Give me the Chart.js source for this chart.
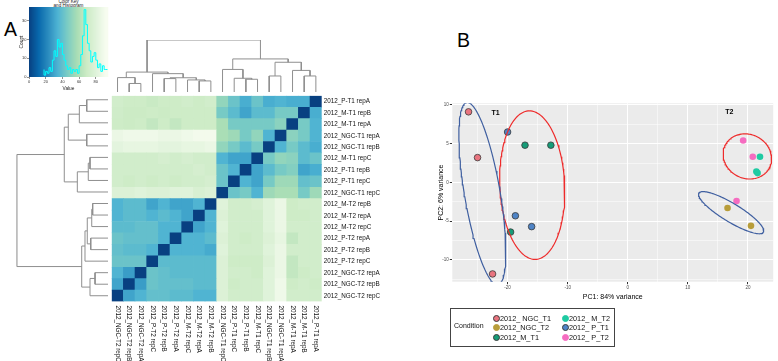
<!DOCTYPE html>
<html>
<head>
<meta charset="utf-8">
<title>Heatmap and PCA</title>
<script src="https://cdn.jsdelivr.net/npm/chart.js@4.4.1/dist/chart.umd.min.js"></script>
<style>
  body { margin: 0; width: 778px; height: 361px; overflow: hidden; position: relative; background: #fff;
         font-family: "Liberation Sans", Arial, Helvetica, sans-serif; }
  canvas { position: absolute; }
  .letter { position: absolute; font-size: 19.5px; line-height: 1; color: #000; }
  #keyTitle { position: absolute; left: 38px; width: 61px; top: -0.5px; font-size: 4.6px; line-height: 4.8px;
              text-align: center; color: #222; }
  #legendBox { position: absolute; left: 450px; top: 307.5px; width: 163px; height: 37px; border: 1px solid #444; }
  #legendBox div { position: absolute; white-space: nowrap; }
</style>
</head>
<body>
<div class="letter" style="left:4px;top:20px">A</div>
<div class="letter" style="left:457px;top:31px">B</div>
<div id="keyTitle">Color Key<br>and Histogram</div>

<canvas id="keyChart" width="115" height="95" style="left:0;top:0"></canvas>
<canvas id="colDendro" width="330" height="56" style="left:100px;top:38px"></canvas>
<canvas id="rowDendro" width="112" height="215" style="left:0;top:90px"></canvas>
<canvas id="heatChart" width="330" height="271" style="left:100px;top:90px"></canvas>
<canvas id="pcaChart" width="348" height="215" style="left:430px;top:95px"></canvas>
<div id="legendBox"></div>

<script>
Chart.defaults.font.family = '"Liberation Sans", Arial, Helvetica, sans-serif';

// ---- heatmap data (rows top to bottom, columns left to right) ----
const rowNames = ['2012_P-T1 repA', '2012_M-T1 repB', '2012_M-T1 repA', '2012_NGC-T1 repA', '2012_NGC-T1 repB',
  '2012_M-T1 repC', '2012_P-T1 repB', '2012_P-T1 repC', '2012_NGC-T1 repC', '2012_M-T2 repB', '2012_M-T2 repA',
  '2012_M-T2 repC', '2012_P-T2 repA', '2012_P-T2 repB', '2012_P-T2 repC', '2012_NGC-T2 repA', '2012_NGC-T2 repB',
  '2012_NGC-T2 repC'];
const colNames = ['2012_NGC-T2 repC', '2012_NGC-T2 repB', '2012_NGC-T2 repA', '2012_P-T2 repC', '2012_P-T2 repB',
  '2012_P-T2 repA', '2012_M-T2 repC', '2012_M-T2 repA', '2012_M-T2 repB', '2012_NGC-T1 repC', '2012_P-T1 repC',
  '2012_P-T1 repB', '2012_M-T1 repC', '2012_NGC-T1 repB', '2012_NGC-T1 repA', '2012_M-T1 repA', '2012_M-T1 repB',
  '2012_P-T1 repA'];
const heatValues = [
  [72, 70, 70, 68, 70, 70, 72, 70, 72, 52, 42, 33, 42, 33, 35, 33, 33, 0],
  [71, 69, 69, 70, 69, 70, 70, 70, 70, 45, 38, 30, 38, 38, 45, 45, 0, 33],
  [70, 69, 70, 66, 70, 66, 70, 70, 70, 58, 45, 45, 45, 45, 50, 0, 45, 35],
  [86, 88, 88, 88, 86, 86, 88, 90, 90, 58, 55, 45, 52, 35, 0, 50, 45, 35],
  [82, 84, 84, 84, 82, 82, 84, 84, 86, 52, 45, 38, 45, 0, 35, 45, 38, 33],
  [72, 72, 72, 72, 74, 72, 74, 72, 72, 35, 30, 30, 0, 45, 52, 50, 38, 42],
  [72, 72, 72, 72, 72, 72, 72, 74, 72, 42, 35, 0, 30, 38, 45, 48, 30, 33],
  [72, 70, 72, 70, 72, 70, 72, 72, 74, 42, 0, 35, 30, 45, 55, 55, 40, 42],
  [78, 78, 80, 78, 78, 80, 80, 76, 78, 0, 42, 45, 35, 55, 58, 58, 45, 55],
  [35, 38, 38, 30, 35, 30, 30, 35, 0, 80, 72, 72, 74, 80, 86, 70, 72, 72],
  [35, 38, 38, 35, 38, 35, 30, 0, 35, 78, 72, 72, 72, 80, 86, 70, 70, 72],
  [38, 38, 40, 40, 35, 35, 0, 30, 35, 80, 72, 72, 72, 80, 86, 72, 72, 72],
  [42, 40, 40, 40, 35, 0, 35, 35, 38, 78, 72, 70, 72, 78, 84, 66, 72, 72],
  [40, 38, 38, 35, 0, 35, 35, 35, 32, 80, 72, 72, 72, 80, 86, 72, 72, 72],
  [42, 42, 42, 0, 38, 38, 38, 38, 38, 78, 70, 70, 70, 78, 86, 66, 72, 72],
  [35, 28, 0, 42, 40, 38, 38, 38, 38, 78, 72, 72, 70, 80, 86, 66, 70, 72],
  [30, 0, 28, 42, 40, 40, 40, 38, 38, 78, 70, 72, 72, 80, 88, 70, 72, 70],
  [0, 30, 35, 40, 40, 38, 38, 35, 35, 78, 72, 72, 72, 80, 88, 72, 72, 72]
];

// dendrogram merges, hclust style: negative = row (1-based), positive = earlier merge
const mergeLeft = [-6, -8, -9, -4, -1, -3, 4, 3, -16, -18, -13, -10, -12, 11, -15, 10, 8];
const mergeRight = [-7, 1, 2, -5, -2, 5, 6, 7, -17, 9, -14, -11, 12, 13, 14, 15, 16];
const colMergeHeights = [24.5, 26.4, 43.4, 30.8, 30.8, 41.5, 57.2, 63.6, 16.4, 27.7, 25.8, 21.3, 23.2, 27.4, 35.3, 38.3, 100];
const rowMergeHeights = [19.7, 21.6, 33.6, 23.3, 23.3, 31.4, 43.5, 47.9, 14.2, 19.7, 18.9, 16.8, 17.8, 22.7, 25.2, 28.8, 100];

// colour key histogram
const histBreaks = [18, 20, 22, 24, 26, 28, 30, 32, 34, 36, 38, 40, 42, 44, 46, 48, 50, 52, 54, 56, 58, 60,
  62, 64, 66, 68, 70, 72, 74, 76, 78, 80, 82, 84, 86, 88, 90, 92, 94];
const histCounts = [4, 1, 3, 2, 5, 3, 9, 14, 11, 20, 16, 18, 12, 9, 6, 4, 5, 2, 4, 3, 4, 2,
  6, 12, 22, 36, 28, 18, 14, 8, 11, 13, 9, 5, 7, 3, 6, 4];
const keyXTicks = [0, 20, 40, 60, 80];
const keyYTicks = [0, 10, 20, 30];

const colorStops = ['#084081', '#0868ac', '#2b8cbe', '#4eb3d3', '#7bccc4', '#a8ddb5', '#ccebc5', '#e0f3db', '#f7fcf0'];
const colorMax = 92;

// ---- PCA data ----
const conditionNames = ['2012_ NGC_T1', '2012_NGC_T2', '2012_M_T1', '2012_ M_T2', '2012_ P_T1', '2012_ P_T2'];
const conditionColors = ['#e9747f', '#b89d3a', '#169c78', '#1fcaa2', '#4f84c6', '#f56cc0'];
const conditionOutlined = [true, false, true, false, true, false];
const pc1 = [
  [-26.5, -25.0, -22.5],
  [16.6, 20.5],
  [-17.1, -12.8, -19.5],
  [22.0, 21.4, 21.6],
  [-20.0, -18.7, -16.0],
  [19.2, 20.8, 18.1]
];
const pc2 = [
  [9.1, 3.2, -11.8],
  [-3.3, -5.6],
  [4.8, 4.8, -6.4],
  [3.3, 1.4, 1.2],
  [6.5, -4.3, -5.7],
  [5.4, 3.3, -2.4]
];
const pcaXTicks = [-25, -20, -15, -10, -5, 0, 5, 10, 15, 20];
const pcaYTicks = [-12.5, -10, -7.5, -5, -2.5, 0, 2.5, 5, 7.5, 10];

// group ellipses: centre, half-axis A and conjugate half-axis B (data units)
const ellipseCx = [-24.2, -15.9, 19.9, 17.2];
const ellipseCy = [-1.45, -0.35, 3.35, -3.9];
const ellipseAx = [-2.6, -0.47, 3.73, 5.37];
const ellipseAy = [11.75, 9.57, -1.37, -2.52];
const ellipseBx = [2.92, 5.4, -1.53, -0.78];
const ellipseBy = [0.40, 0, -2.57, -1.02];
const ellipseColors = ['#3f5fa0', '#ee2b2b', '#ee2b2b', '#3f5fa0'];

const groupLabels = ['T1', 'T2'];
const groupLabelX = [-22, 16.9];
const groupLabelY = [8.9, 9.1];

// ---- helpers ----
function hexToRgb(h) { return [1, 3, 5].map(i => parseInt(h.slice(i, i + 2), 16)); }
function heatColor(v) {
  const n = colorStops.length - 1;
  const t = Math.max(0, Math.min(1, v / colorMax)) * n;
  const i = Math.min(Math.floor(t), n - 1);
  const f = t - i;
  const a = hexToRgb(colorStops[i]), b = hexToRgb(colorStops[i + 1]);
  const c = a.map((x, k) => Math.round(x + (b[k] - x) * f));
  return 'rgb(' + c.join(',') + ')';
}

function dendroPoints(heights) {
  const pos = [], hts = [], pts = [];
  const nodePos = i => i < 0 ? -i - 1 : pos[i - 1];
  const nodeH = i => i < 0 ? 0 : hts[i - 1];
  mergeLeft.forEach((a, k) => {
    const b = mergeRight[k], h = heights[k];
    const pa = nodePos(a), pb = nodePos(b);
    pts.push({p: pa, h: nodeH(a)}, {p: pa, h: h}, {p: pb, h: h}, {p: pb, h: nodeH(b)}, {p: NaN, h: NaN});
    pos.push((pa + pb) / 2);
    hts.push(h);
  });
  return pts;
}

const baseOpts = {
  animation: false, responsive: false, events: [],
  plugins: { legend: { display: false }, tooltip: { enabled: false } }
};
const dendroLine = { showLine: true, pointRadius: 0, borderColor: '#8f8f8f', borderWidth: 1, spanGaps: false };

// ---- colour key ----
const keyGradient = {
  id: 'keyGradient',
  beforeDatasetsDraw(chart) {
    const {ctx, chartArea: a, scales: {x}} = chart;
    ctx.save();
    for (let px = a.left; px < a.right; px++) {
      ctx.fillStyle = heatColor(x.getValueForPixel(px + 0.5));
      ctx.fillRect(px, a.top, 1.3, a.bottom - a.top);
    }
    ctx.restore();
  }
};
const histPoints = histBreaks.map((b, i) => ({ x: b, y: histCounts[Math.min(i, histCounts.length - 1)] }));

new Chart(document.getElementById('keyChart'), {
  type: 'scatter',
  data: { datasets: [{ data: histPoints, showLine: true, stepped: 'after', borderColor: '#00ffff', borderWidth: 1, pointRadius: 0 }] },
  options: Object.assign({}, baseOpts, {
    layout: { padding: { left: 0, right: 7, top: 7, bottom: 0 } },
    scales: {
      x: {
        type: 'linear', min: 0, max: 94.6,
        afterBuildTicks: s => { s.ticks = keyXTicks.map(v => ({ value: v })); },
        afterFit: s => { s.height = 18; },
        grid: { drawOnChartArea: false, tickLength: 2, color: '#444', lineWidth: 0.6 },
        border: { display: false },
        ticks: { font: { size: 4 }, color: '#333', padding: 0.5, maxRotation: 0, autoSkip: false },
        title: { display: true, text: 'Value', font: { size: 4.8 }, color: '#222', padding: { top: 0, bottom: 3.5 } }
      },
      y: {
        min: 0, max: 37.4,
        afterBuildTicks: s => { s.ticks = keyYTicks.map(v => ({ value: v })); },
        afterFit: s => { s.width = 29; },
        grid: { drawOnChartArea: false, tickLength: 2, color: '#444', lineWidth: 0.6 },
        border: { display: false },
        ticks: { font: { size: 4 }, color: '#333', padding: 0.5, autoSkip: false },
        title: { display: true, text: 'Count', font: { size: 4.8 }, color: '#222', padding: { top: 18.5, bottom: 0 } }
      }
    }
  }),
  plugins: [keyGradient]
});

// ---- column dendrogram ----
new Chart(document.getElementById('colDendro'), {
  type: 'scatter',
  data: { datasets: [Object.assign({ data: dendroPoints(colMergeHeights).map(d => ({ x: 17 - d.p, y: d.h })) }, dendroLine)] },
  options: Object.assign({}, baseOpts, {
    layout: { padding: { left: 11.7, right: 108.3, top: 2, bottom: 2 } },
    scales: {
      x: { display: false, min: -0.5, max: 17.5 },
      y: { display: false, min: 0, max: 100 }
    }
  })
});

// ---- row dendrogram ----
new Chart(document.getElementById('rowDendro'), {
  type: 'scatter',
  data: { datasets: [Object.assign({ data: dendroPoints(rowMergeHeights).map(d => ({ x: d.h, y: d.p })) }, dendroLine)] },
  options: Object.assign({}, baseOpts, {
    layout: { padding: { left: 16.7, right: 4, top: 4, bottom: 3.5 } },
    scales: {
      x: { display: false, min: 0, max: 100, reverse: true },
      y: { display: false, min: -0.5, max: 17.5, reverse: true }
    }
  })
});

// ---- heatmap ----
const colLabels = {
  id: 'colLabels',
  afterDraw(chart) {
    const {ctx, chartArea, scales: {x}} = chart;
    ctx.save();
    ctx.font = '6.3px "Liberation Sans", Arial, sans-serif';
    ctx.fillStyle = '#111';
    ctx.textAlign = 'left';
    ctx.textBaseline = 'middle';
    colNames.forEach((name, i) => {
      ctx.save();
      ctx.translate(x.getPixelForValue(i), chartArea.bottom + 4);
      ctx.rotate(Math.PI / 2);
      ctx.fillText(name, 0, 0);
      ctx.restore();
    });
    ctx.restore();
  }
};

new Chart(document.getElementById('heatChart'), {
  type: 'bar',
  data: {
    labels: colNames,
    datasets: rowNames.map((name, k) => ({
      label: rowNames[17 - k],
      data: colNames.map(() => 1),
      backgroundColor: heatValues[17 - k].map(heatColor),
      borderWidth: 0,
      barPercentage: 1,
      categoryPercentage: 1
    }))
  },
  options: Object.assign({}, baseOpts, {
    layout: { padding: { left: 11.7, right: 0.3, top: 4, bottom: 59.5 } },
    scales: {
      x: { display: false, stacked: true },
      y: {
        stacked: true, min: 0, max: 18, position: 'right',
        afterBuildTicks: s => { s.ticks = rowNames.map((n, i) => ({ value: i + 0.5 })); },
        afterFit: s => { s.width = 108; },
        grid: { display: false, drawTicks: false },
        border: { display: false },
        ticks: { font: { size: 6.3 }, color: '#111', padding: 2, autoSkip: false,
                 callback: (v, i) => rowNames[17 - i] }
      }
    }
  }),
  plugins: [colLabels]
});

// ---- PCA ----
const panelBg = {
  id: 'panelBg',
  beforeDraw(chart) {
    const {ctx, chartArea: a} = chart;
    ctx.save();
    ctx.fillStyle = '#ebebeb';
    ctx.fillRect(a.left, a.top, a.right - a.left, a.bottom - a.top);
    ctx.restore();
  }
};
const groupText = {
  id: 'groupText',
  afterDatasetsDraw(chart) {
    const {ctx, scales: {x, y}} = chart;
    ctx.save();
    ctx.font = 'bold 7px "Liberation Sans", Arial, sans-serif';
    ctx.fillStyle = '#000';
    ctx.textAlign = 'center';
    ctx.textBaseline = 'middle';
    groupLabels.forEach((t, i) => ctx.fillText(t, x.getPixelForValue(groupLabelX[i]), y.getPixelForValue(groupLabelY[i])));
    ctx.restore();
  }
};

function ellipsePoints(i) {
  const pts = [];
  for (let k = 0; k <= 144; k++) {
    const t = k / 144 * 2 * Math.PI;
    pts.push({
      x: ellipseCx[i] + ellipseAx[i] * Math.cos(t) + ellipseBx[i] * Math.sin(t),
      y: ellipseCy[i] + ellipseAy[i] * Math.cos(t) + ellipseBy[i] * Math.sin(t)
    });
  }
  return pts;
}

const pcaDatasets = ellipseCx.map((c, i) => ({
  data: ellipsePoints(i), showLine: true, pointRadius: 0, borderColor: ellipseColors[i], borderWidth: 1.2, fill: false
})).concat(conditionNames.map((name, i) => ({
  label: name,
  data: pc1[i].map((v, j) => ({ x: v, y: pc2[i][j] })),
  pointRadius: 3.3,
  backgroundColor: conditionColors[i],
  borderColor: conditionOutlined[i] ? '#3a3a3a' : conditionColors[i],
  borderWidth: conditionOutlined[i] ? 0.8 : 0
})));

const gridWidth = c => (c.tick && Math.abs(c.tick.value % 5) < 1e-6 ? 1 : 0.5);

new Chart(document.getElementById('pcaChart'), {
  type: 'scatter',
  data: { datasets: pcaDatasets },
  options: Object.assign({}, baseOpts, {
    layout: { padding: { left: 0, right: 2, top: 8.3, bottom: 0 } },
    scales: {
      x: {
        min: -29.2, max: 24.2,
        afterBuildTicks: s => { s.ticks = pcaXTicks.map(v => ({ value: v })); },
        afterFit: s => { s.height = 28.3; },
        grid: { color: '#fff', lineWidth: c => (c.tick && c.tick.value % 10 === 0 ? 1 : 0.5),
                tickColor: c => (c.tick && c.tick.value % 10 === 0 ? '#333' : 'rgba(0,0,0,0)'), tickLength: 2.5 },
        border: { display: false },
        ticks: { font: { size: 4.5 }, color: '#4d4d4d', padding: 1, maxRotation: 0, autoSkip: false,
                 callback: v => (v % 10 === 0 ? String(v) : '') },
        title: { display: true, text: 'PC1: 84% variance', font: { size: 7 }, color: '#000', padding: { top: 0, bottom: 8.8 } }
      },
      y: {
        min: -12.8, max: 10.2,
        afterBuildTicks: s => { s.ticks = pcaYTicks.map(v => ({ value: v })); },
        afterFit: s => { s.width = 22.3; },
        grid: { color: '#fff', lineWidth: gridWidth,
                tickColor: c => (c.tick && Math.abs(c.tick.value % 5) < 1e-6 ? '#333' : 'rgba(0,0,0,0)'), tickLength: 2.5 },
        border: { display: false },
        ticks: { font: { size: 4.5 }, color: '#4d4d4d', padding: 1, autoSkip: false,
                 callback: v => (Math.abs(v % 5) < 1e-6 ? String(v) : '') },
        title: { display: true, text: 'PC2: 6% variance', font: { size: 7 }, color: '#000', padding: { top: 7, bottom: 0 } }
      }
    }
  }),
  plugins: [panelBg, groupText]
});

// ---- legend ----
const legendBox = document.getElementById('legendBox');
const legendColX = [45, 114];
const legendRowY = [9.5, 19, 28.5];
let html = '<div style="left:3px;top:13px;font-size:7px;line-height:8px;color:#111">Condition</div>';
conditionNames.forEach((name, i) => {
  const cx = legendColX[i < 3 ? 0 : 1], cy = legendRowY[i % 3];
  const border = conditionOutlined[i] ? '0.8px solid #3a3a3a' : '0.8px solid ' + conditionColors[i];
  html += '<div style="left:' + (cx - 3.3) + 'px;top:' + (cy - 3.3) + 'px;width:5px;height:5px;border-radius:50%;background:' +
    conditionColors[i] + ';border:' + border + '"></div>';
  html += '<div style="left:' + (cx + 4) + 'px;top:' + (cy - 4.5) + 'px;font-size:7.3px;line-height:9px;color:#111">' + name + '</div>';
});
legendBox.innerHTML = html;
</script>
</body>
</html>
